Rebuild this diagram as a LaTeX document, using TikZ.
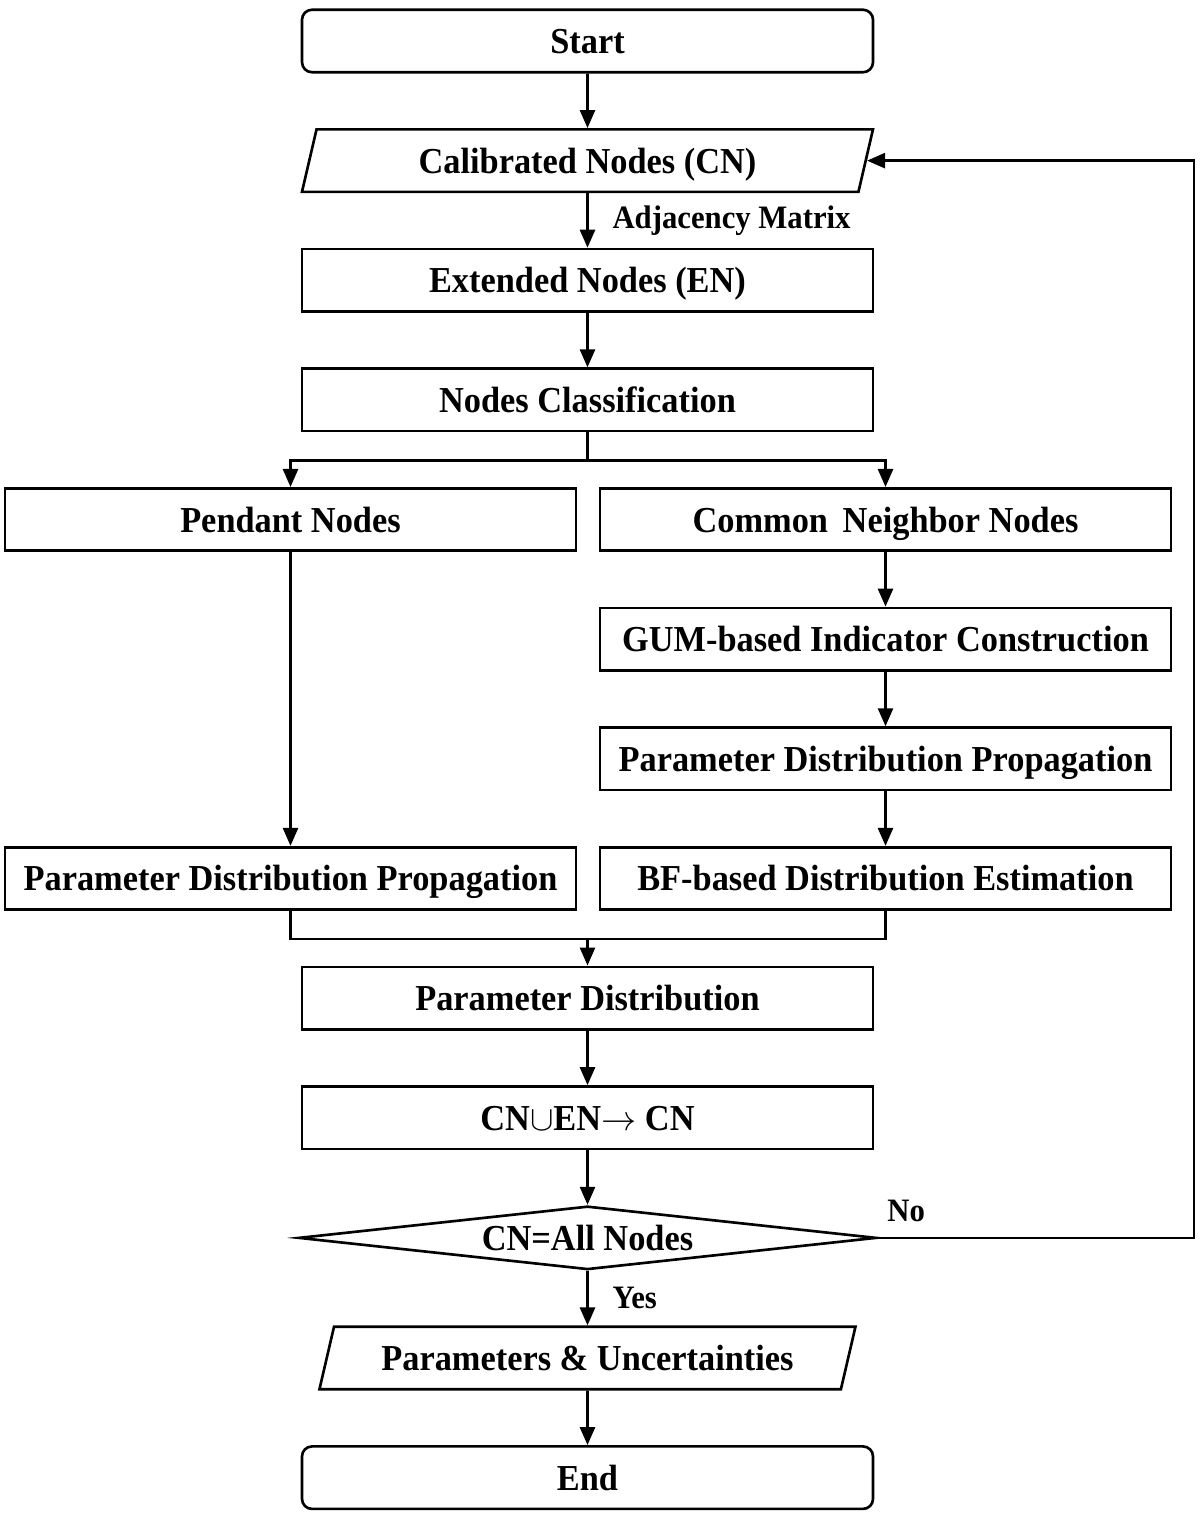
\documentclass[tikz,border=0pt]{standalone}
\usepackage{fontspec}
\setmainfont{Liberation Serif}[FakeStretch=0.94]
\usetikzlibrary{positioning,shapes.geometric,arrows.meta}

\begin{document}
\begin{tikzpicture}[
    node distance=5.45mm,
    box/.style={draw, line width=0.75pt, minimum width=57.1mm, minimum height=6.25mm, inner sep=0pt, align=center, text height=3.25mm, text depth=0.75mm, font=\fontsize{10.4}{12}\selectfont\bfseries},
    term/.style={box, rounded corners=1mm},
    io/.style={box, trapezium, trapezium left angle=70, trapezium right angle=110, trapezium stretches body},
    dec/.style={box, diamond, minimum width=57.8mm, minimum height=6.2mm, aspect=9},
    lbl/.style={font=\fontsize{9.3}{11}\selectfont\bfseries},
    arr/.style={-{Triangle[length=1.8mm,width=1.5mm]}, line width=0.75pt}
]
\useasboundingbox (0,0) rectangle (12,-15.16);
% main column
\node[term] (start) at (5.875,-0.41) {Start};
\node[io, below=of start] (cn) {Calibrated Nodes (CN)};
\node[box, below=of cn] (en) {Extended Nodes (EN)};
\node[box, below=of en] (cls) {Nodes Classification};
% two branches
\node[box, below=of cls, xshift=-2.97cm] (pend) {Pendant Nodes};
\node[box, below=of cls, xshift=2.98cm] (comm) {Common\, Neighbor Nodes};
\node[box, below=of comm] (gum) {GUM-based Indicator Construction};
\node[box, below=of gum] (pdpr) {Parameter Distribution Propagation};
\node[box, below=of pdpr] (bf) {BF-based Distribution Estimation};
\node[box] (pdpl) at (pend |- bf) {Parameter Distribution Propagation};
% back to one column
\node[box, below=of bf, xshift=-2.98cm] (pdist) {Parameter Distribution};
\node[box, below=of pdist] (uni) {CN$\cup$EN$\rightarrow$ CN};
\node[dec, below=of uni] (chk) {CN=All Nodes};
\node[io, minimum width=53.6mm, below=of chk] (out) {Parameters \& Uncertainties};
\node[term, below=of out] (fin) {End};

\draw[arr] (start) -- (cn);
\draw[arr] (cn) -- node[lbl, right, xshift=1.2mm] {Adjacency Matrix} (en);
\draw[arr] (en) -- (cls);
\draw[arr] (cls.south) -- ++(0,-0.28) -| (pend.north);
\draw[arr] (cls.south) -- ++(0,-0.28) -| (comm.north);
\draw[arr] (pend) -- (pdpl);
\draw[arr] (comm) -- (gum);
\draw[arr] (gum) -- (pdpr);
\draw[arr] (pdpr) -- (bf);
\draw[line width=0.75pt] (pdpl.south) -- ++(0,-0.28) coordinate (mrg) -| (bf.south);
\draw[arr] (mrg -| pdist.north) -- (pdist.north);
\draw[arr] (pdist) -- (uni);
\draw[arr] (uni) -- (chk);
\draw[arr] (chk) -- node[lbl, right, xshift=1.2mm] {Yes} (out);
\draw[arr] (out) -- (fin);
\draw[arr] (chk.east) -- node[lbl, above, pos=0.09, yshift=0.3mm] {No} ++(3.16,0) |- (cn.east);
\end{tikzpicture}
\end{document}
